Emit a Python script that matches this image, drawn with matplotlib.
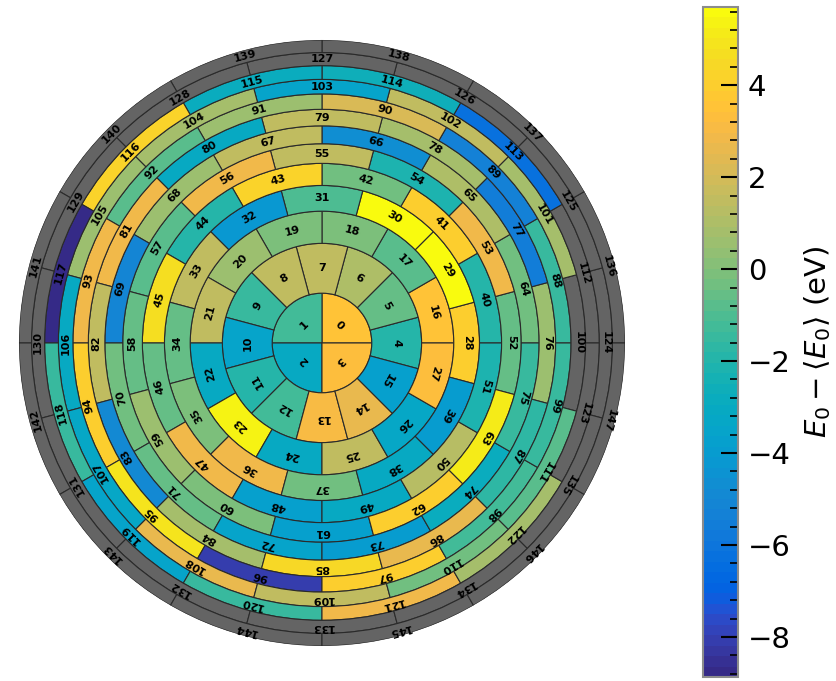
import numpy as np
import matplotlib
matplotlib.use("Agg")
import matplotlib.pyplot as plt
from matplotlib.colors import ListedColormap, Normalize
from matplotlib.ticker import MultipleLocator

nan = np.nan

# E0 - <E0> (eV) per cell, ring by ring, counter-clockwise from +x
ring0 = [3.6, -1.2, -3.0, 3.2]
ring1 = [-1.9, -0.55, 1.05, 1.5, 1.4, -1.5, -3.55, -1.9, -1.2, 3.15, 2.7, -3.8]
ring2 = [3.6, -0.9, -0.1, -0.1, 0.5, 1.4, -3.1, 5.4, -3.0, 1.5, -3.2, 3.4]
ring3 = [3.9, 5.7, 5.5, -1.0, -4.2, 1.6, -0.6, -0.1, 2.8, -0.3, -3.0, -4.0]
ring4 = [-2.0, 4.0, -0.3, 4.2, -1.9, 4.6, -0.5, 2.9, -3.7, -3.1, 1.3, -2.1]
ring5 = [-0.6, 2.8, -2.1, 1.5, 2.8, -0.9, -0.5, 0.6, 0.0, -3.7, 4.0, 5.1]
ring6 = [-0.4, 1.0, -4.6, 1.5, 0.6, -5.1, -0.3, -0.6, -3.6, -3.9, -2.8, -1.4]
ring7 = [0.6, -5.6, 0.8, 1.5, -3.0, 2.9, 1.4, -4.8, 0.7, 4.5, 2.6, -1.7]
ring8 = [-1.5, -5.4, 2.1, 0.5, -0.8, 2.9, 4.1, 5.0, -8.1, 4.1, -1.3, -1.4]
ring9 = [nan, 0.7, 1.5, -3.5, 0.7, 0.6, -3.1, -3.2, 2.6, 1.5, -0.3, -0.8]
ring10 = [nan, -6.2, -2.5, -2.8, 4.2, -8.87, -1.5, -3.6, -1.5, 2.8, 0.7, nan]
ring11 = [nan] * 12
ring12 = [nan] * 12

rings = [ring0, ring1, ring2, ring3, ring4, ring5, ring6,
         ring7, ring8, ring9, ring10, ring11, ring12]

# parula, 64 levels
parula = [
    [0.2081, 0.1663, 0.5292], [0.2116, 0.1898, 0.5777], [0.2123, 0.2138, 0.6270],
    [0.2081, 0.2386, 0.6771], [0.1959, 0.2645, 0.7279], [0.1707, 0.2919, 0.7792],
    [0.1253, 0.3242, 0.8303], [0.0591, 0.3598, 0.8683], [0.0117, 0.3875, 0.8820],
    [0.0060, 0.4086, 0.8828], [0.0165, 0.4266, 0.8786], [0.0329, 0.4430, 0.8720],
    [0.0498, 0.4586, 0.8641], [0.0629, 0.4737, 0.8554], [0.0723, 0.4887, 0.8467],
    [0.0779, 0.5040, 0.8384], [0.0793, 0.5200, 0.8312], [0.0749, 0.5375, 0.8263],
    [0.0641, 0.5570, 0.8240], [0.0488, 0.5772, 0.8228], [0.0343, 0.5966, 0.8199],
    [0.0265, 0.6137, 0.8135], [0.0239, 0.6287, 0.8038], [0.0231, 0.6418, 0.7913],
    [0.0228, 0.6535, 0.7768], [0.0267, 0.6642, 0.7607], [0.0384, 0.6743, 0.7436],
    [0.0590, 0.6838, 0.7254], [0.0843, 0.6928, 0.7062], [0.1133, 0.7015, 0.6859],
    [0.1453, 0.7098, 0.6646], [0.1801, 0.7177, 0.6424], [0.2178, 0.7250, 0.6193],
    [0.2586, 0.7317, 0.5954], [0.3022, 0.7376, 0.5712], [0.3482, 0.7424, 0.5473],
    [0.3953, 0.7459, 0.5244], [0.4420, 0.7481, 0.5033], [0.4871, 0.7491, 0.4840],
    [0.5300, 0.7491, 0.4661], [0.5709, 0.7485, 0.4494], [0.6099, 0.7473, 0.4337],
    [0.6473, 0.7456, 0.4188], [0.6834, 0.7435, 0.4044], [0.7184, 0.7411, 0.3905],
    [0.7525, 0.7384, 0.3768], [0.7858, 0.7356, 0.3633], [0.8185, 0.7327, 0.3498],
    [0.8507, 0.7299, 0.3360], [0.8824, 0.7274, 0.3217], [0.9139, 0.7258, 0.3063],
    [0.9450, 0.7261, 0.2886], [0.9739, 0.7314, 0.2666], [0.9938, 0.7455, 0.2403],
    [0.9990, 0.7653, 0.2164], [0.9955, 0.7861, 0.1967], [0.9880, 0.8066, 0.1794],
    [0.9789, 0.8271, 0.1633], [0.9697, 0.8481, 0.1475], [0.9626, 0.8705, 0.1309],
    [0.9589, 0.8949, 0.1132], [0.9598, 0.9218, 0.0948], [0.9661, 0.9514, 0.0755],
    [0.9763, 0.9831, 0.0538],
]
cmap = ListedColormap(parula)
missing_color = "#646464"

all_vals = np.concatenate([np.array(r, dtype=float) for r in rings])
norm = Normalize(vmin=np.nanmin(all_vals), vmax=np.nanmax(all_vals))

fig = plt.figure(figsize=(8.36, 6.81), dpi=100)
ax = fig.add_axes([0.0227, 0.0514, 0.7249, 0.8899], projection="polar")

# equal-area rings: 4 cells in the core, 12 in every ring after it
n_total = sum(len(r) for r in rings)
edges = [0.0]
count = 0
for r in rings:
    count += len(r)
    edges.append(np.sqrt(count / n_total))

idx = 0
for i, vals in enumerate(rings):
    vals = np.array(vals, dtype=float)
    n = len(vals)
    if i == 0:
        offset = 45.0
    elif i % 2 == 1:
        offset = 0.0
    else:
        offset = 15.0
    theta = np.deg2rad(offset + 360.0 / n * np.arange(n))
    r_in, r_out = edges[i], edges[i + 1]
    colors = [missing_color if np.isnan(v) else cmap(norm(v)) for v in vals]
    ax.bar(theta, r_out - r_in, width=2 * np.pi / n, bottom=r_in,
           color=colors, edgecolor="#2a2a2a", linewidth=0.8, align="center")
    r_mid = 0.5 * (r_in + r_out)
    for t in theta:
        ax.text(t, r_mid, str(idx), rotation=np.rad2deg(t) - 90,
                rotation_mode="anchor", ha="center", va="center",
                fontsize=8, fontweight="bold")
        idx += 1

ax.set_ylim(0, 1)
ax.axis("off")

# colour bar
cax = fig.add_axes([0.8409, 0.0059, 0.0419, 0.9838])
sm = plt.cm.ScalarMappable(norm=norm, cmap=cmap)
cb = fig.colorbar(sm, cax=cax)
cb.outline.set_edgecolor("#8c8c8c")
cb.outline.set_linewidth(1.5)
cb.set_ticks([-8, -6, -4, -2, 0, 2, 4])
cax.yaxis.set_minor_locator(MultipleLocator(0.4))
cax.tick_params(which="major", direction="in", length=12, width=1.5,
                labelsize=21, pad=7)
cax.tick_params(which="minor", direction="in", length=6, width=1.2)
cb.set_label(r"$E_0 - \langle E_0 \rangle$ (eV)", fontsize=21, labelpad=8)

fig.savefig("out.png", dpi=100)
